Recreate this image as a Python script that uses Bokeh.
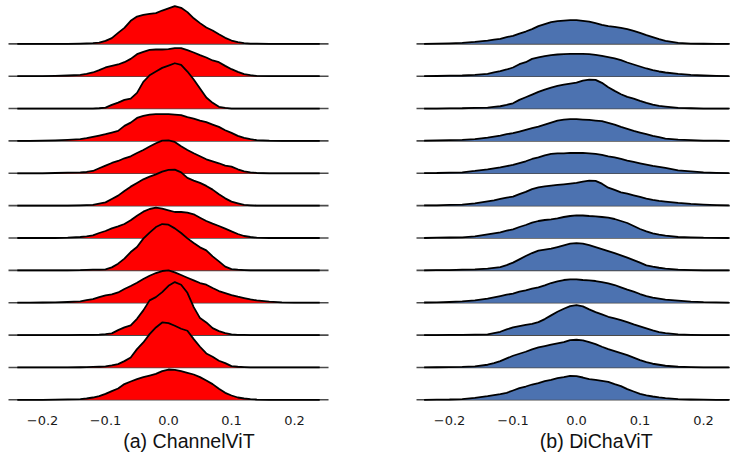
from bokeh.plotting import figure
from bokeh.layouts import row
from bokeh.models import Range1d, FixedTicker, CustomJSTickFormatter, Title
from bokeh.embed import file_html
from bokeh.resources import INLINE

# x positions where the densities were read (weight value)
X_GRID = [-0.24, -0.22, -0.20, -0.18, -0.16,
          -0.14, -0.13, -0.12, -0.11, -0.10, -0.09, -0.08, -0.07, -0.06, -0.05, -0.04, -0.03, -0.02, -0.01,
          0.0, 0.01, 0.02, 0.03, 0.04, 0.05, 0.06, 0.07, 0.08, 0.09, 0.10, 0.11, 0.12, 0.13, 0.14,
          0.16, 0.18, 0.20, 0.22, 0.24]
TICKS = [-0.2, -0.1, 0.0, 0.1, 0.2]
PANEL_TITLES = ["(a) ChannelViT", "(b) DiChaViT"]

# ridge heights (top row first), in density units where 32.36 = one row step
CHANNELVIT = [
    [0, 0, 0, 0, 0,
     0.2, 0.4, 0.7, 1.3, 3, 5.7, 11, 16, 23, 27.3, 29, 30, 30.7, 33.3, 35.5, 37.7, 36, 31.7, 25.5, 20.7, 16.3, 13.3, 9.5, 6, 3.3, 1.7, 0.7, 0.3, 0.2,
     0, 0, 0, 0, 0],
    [0, 0, 0, 0.3, 0.7,
     1.3, 2.3, 3.7, 6, 8.7, 10.3, 11.7, 14, 17.3, 22, 24.3, 26.3, 26.7, 26.7, 27, 28, 28, 26, 23.7, 21, 18.7, 15.7, 14, 10.3, 7, 4.3, 2, 1, 0.3,
     0, 0, 0, 0, 0],
    [0, 0, 0, 0, 0,
     0, 0, 0, 0.3, 1, 3.7, 6, 8.7, 10, 15.7, 26.7, 33.3, 37, 40.7, 43, 45.3, 43.7, 37, 29, 20, 11, 5.7, 1.7, 0.7, 0, 0, 0, 0, 0,
     0, 0, 0, 0, 0],
    [0, 0, 0.2, 0.5, 1,
     1.7, 2.7, 4, 5.3, 6.7, 8.3, 10, 15, 18.3, 23, 25, 26.3, 26.7, 26.7, 26.7, 26.3, 25.7, 23.7, 22.3, 20.3, 18.7, 16.3, 14, 10.7, 8, 5, 3, 1.7, 0.7,
     0.2, 0, 0, 0, 0],
    [0, 0, 0, 0.3, 0.7,
     1, 1.3, 2.3, 5, 7.7, 10.3, 12.3, 15, 17, 20.3, 23.3, 26.7, 30, 32.7, 33, 31.3, 27, 23.3, 20, 17, 14, 12, 10, 7.7, 6.7, 4, 2, 1, 0.3,
     0, 0, 0, 0, 0],
    [0, 0, 0, 0, 0,
     0.3, 0.5, 0.7, 2, 3.3, 6.7, 10, 14.7, 19, 22.7, 26.3, 29, 31.3, 34, 35.7, 36, 33.3, 27.7, 25, 22.7, 19.7, 16, 11.3, 7.3, 4, 2.3, 0.7, 0.3, 0,
     0, 0, 0, 0, 0],
    [0, 0, 0, 0, 0.3,
     1, 1.7, 2.7, 5, 7, 9.7, 11.7, 14, 17.7, 22.3, 26.3, 29, 30.3, 29.3, 27.7, 26, 26, 25.3, 23.7, 20.3, 17, 14.3, 12, 9.3, 6.7, 4, 2, 1, 0.3,
     0, 0, 0, 0, 0],
    [0, 0, 0, 0, 0,
     0.2, 0.5, 0.7, 0.7, 1, 3, 6.7, 11.7, 18.3, 23.3, 31.7, 37.7, 43.3, 46.3, 45.7, 42, 37.3, 32, 27.3, 23, 20, 14, 9, 3.7, 1.3, 0.7, 0.3, 0, 0,
     0, 0, 0, 0, 0],
    [0, 0, 0.2, 0.3, 0.7,
     1.3, 2.5, 3.7, 5.7, 7.3, 8.3, 10.3, 13.7, 16.7, 20, 23.7, 27, 29.7, 31.7, 32.3, 30.3, 27.7, 25, 22.3, 19.7, 18, 14.7, 11.7, 9.7, 7.7, 6, 4.7, 3.3, 2.3,
     1, 0.3, 0, 0, 0],
    [0, 0, 0, 0, 0,
     0.2, 0.2, 0.3, 0.5, 1, 1.7, 5, 7.7, 9.7, 16.3, 24.7, 34.7, 38, 43, 49.3, 53, 50.3, 42.3, 28, 17, 12.7, 7, 4, 2, 0.7, 0.3, 0.2, 0, 0,
     0, 0, 0, 0, 0],
    [0, 0, 0, 0, 0,
     0.2, 0.3, 0.5, 0.7, 1, 2, 3.3, 6.3, 10, 18.3, 25, 33.3, 40, 45, 44.3, 41.7, 38.7, 36.7, 28.3, 20.7, 14, 10.7, 6.7, 4.3, 1.3, 0.7, 0.3, 0, 0,
     0, 0, 0, 0, 0],
    [0, 0, 0, 0.2, 0.5,
     0.7, 1.3, 2.3, 3.7, 6, 8.7, 11.3, 15.7, 18.3, 20.7, 22.7, 24.3, 26, 28.7, 30.3, 30, 28.7, 27, 25.3, 22.7, 19.3, 15.7, 11, 7, 4.3, 2.3, 1.3, 0.7, 0.3,
     0, 0, 0, 0, 0],
]
DICHAVIT = [
    [0, 0.2, 0.5, 1, 2,
     3.3, 4.2, 5, 6.7, 8, 10.3, 12.3, 14.7, 17.7, 19.7, 21.7, 22.7, 23.3, 23.7, 23.7, 23, 22.3, 20.7, 19, 17.7, 17, 16, 14.7, 13, 11, 8.7, 6.7, 4.7, 3,
     1, 0.3, 0.1, 0, 0],
    [0, 0.2, 0.5, 0.7, 1.3,
     2.3, 3.7, 5, 6.7, 8.7, 12, 14, 17.3, 18.7, 20, 21, 21.7, 22, 22.3, 22.3, 22.3, 22, 21.3, 20.3, 19, 17.7, 16, 13.7, 11.7, 9.7, 7.7, 6, 4.7, 3.7,
     2.3, 1.3, 0.7, 0.3, 0],
    [0, 0, 0.2, 0.3, 0.7,
     1, 1.7, 2.3, 3.7, 5.3, 8.7, 11.3, 14, 16.7, 19, 21, 22.7, 24, 25, 26, 28, 29, 28.7, 25.7, 21.3, 17.7, 14.3, 11.7, 10, 7.7, 5.7, 4, 2.7, 2,
     0.7, 0.3, 0, 0, 0],
    [0.3, 0.5, 0.7, 1, 1.7,
     3.3, 4.3, 5.3, 6.7, 7.7, 9.3, 11, 12.7, 14.3, 16.3, 18.3, 20.3, 21.3, 21.7, 21.7, 21.3, 21, 20.3, 19.7, 18, 16.3, 14, 12, 10, 8.3, 6.7, 5, 3.7, 2.3,
     1.3, 0.7, 0.3, 0.2, 0],
    [0.2, 0.3, 0.7, 1, 2.3,
     4, 5, 6, 7.2, 8.3, 10.2, 12, 14.3, 16, 18, 19.3, 20, 20, 20.3, 20.3, 20.3, 20, 19.3, 18.3, 17, 16, 14.3, 12.7, 11.3, 10, 8.7, 7.3, 6.3, 5.3,
     3, 2, 1, 0.5, 0.2],
    [0.2, 0.3, 0.7, 1, 2.3,
     4.3, 5.3, 6.7, 8, 9, 11.5, 13.7, 16.5, 18.3, 19.3, 20, 20.7, 21.3, 22, 22.7, 24, 25, 24.7, 22, 18, 15.7, 13.3, 12, 10.3, 8.7, 7, 5.7, 4.7, 4,
     2.7, 1.7, 1, 0.5, 0.2],
    [0, 0.3, 0.5, 0.7, 1.7,
     3.7, 4.7, 5.7, 7.3, 8.7, 11, 13, 15.3, 17, 18, 18.7, 19.7, 21, 22, 22.7, 22.5, 22, 21.7, 21, 20.3, 19, 17, 15, 12, 9, 6.7, 4.7, 3.3, 2.3,
     1, 0.7, 0.3, 0.2, 0],
    [0, 0.2, 0.3, 0.7, 1,
     1.7, 2.5, 3.3, 5.3, 7.7, 11, 14.3, 17.3, 19.7, 20.7, 21.7, 23.3, 25, 26.7, 27.3, 26.7, 25.3, 23.3, 21.3, 19.3, 17.3, 15, 12.7, 10.2, 7.7, 5, 3.7, 2.6, 1.7,
     0.7, 0.3, 0, 0, 0],
    [0.2, 0.3, 0.7, 1.3, 2.3,
     4, 5.3, 6.7, 8, 9, 11, 12.3, 14, 15.3, 17.3, 19.7, 21.3, 22.7, 23.3, 23.3, 22.7, 22.3, 21.7, 20.7, 19.3, 17.7, 15.3, 13, 11, 8.7, 6.7, 5, 4, 3,
     2, 1, 0.5, 0.3, 0.1],
    [0, 0, 0.2, 0.3, 0.5,
     0.7, 2, 3.3, 5.7, 7.7, 9, 10.3, 11.3, 13, 16, 19.7, 23.3, 26.3, 29, 30, 28.7, 25.7, 23, 20.7, 18.3, 16.7, 15, 13, 10.7, 8.7, 6.7, 4.7, 3, 2,
     0.7, 0.3, 0, 0, 0],
    [0, 0.2, 0.3, 0.5, 1,
     2.7, 4.3, 6.3, 9, 11.7, 13.7, 15.7, 18, 20, 21.3, 22.7, 24, 25.3, 27.3, 27.7, 27, 25.3, 23.3, 20.7, 18.3, 16.3, 14.3, 12.3, 9.8, 7.3, 5.3, 3.7, 2.7, 1.7,
     0.7, 0.3, 0.1, 0, 0],
    [0, 0.2, 0.3, 0.7, 2,
     3.7, 4.7, 5.7, 7, 9.3, 11.7, 13.3, 15.3, 16.7, 18.7, 20, 21.7, 22.7, 24, 23.7, 22.3, 20.7, 20, 19, 18, 15.7, 13.7, 10.7, 8.3, 6, 4.5, 3.3, 2.4, 1.7,
     0.7, 0.3, 0.1, 0, 0],
]

ROW_STEP = 32.36
FIG_H = 455


def make_panel(dens, fill, width, x_range, xlim, title, title_offset):
    n = len(dens)
    p = figure(width=width, height=FIG_H, x_range=Range1d(*x_range),
               y_range=Range1d(-0.176, 12.339), output_backend="svg",
               toolbar_location=None, y_axis_location=None,
               min_border_left=0, min_border_right=0, min_border_top=0,
               min_border_bottom=50)
    p.outline_line_color = None
    p.grid.visible = False
    p.background_fill_color = "white"
    p.border_fill_color = "white"
    for i, h in enumerate(dens):
        base = n - 1 - i
        y = [base + v / ROW_STEP for v in h]
        p.line([xlim[0], xlim[1]], [base, base], line_color="#4a4a4a", line_width=1.6)
        p.varea(x=X_GRID, y1=[base] * len(h), y2=y, fill_color=fill)
        p.line(X_GRID, y, line_color="black", line_width=1.8, line_join="round")
    ax = p.xaxis[0]
    ax.ticker = FixedTicker(ticks=TICKS)
    ax.formatter = CustomJSTickFormatter(code="return tick.toFixed(1).replace('-', '\\u2212');")
    ax.axis_line_color = None
    ax.major_tick_line_color = None
    ax.minor_tick_line_color = None
    ax.major_tick_in = 0
    ax.major_tick_out = 0
    ax.major_label_text_font = "DejaVu Sans"
    ax.major_label_text_font_size = "13px"
    ax.major_label_text_color = "#1a1a1a"
    ax.major_label_standoff = 10
    t = Title(text=title, align="left", offset=title_offset, text_font="Liberation Sans",
              text_font_size="19.6px", text_font_style="normal", text_color="#111111", standoff=0)
    p.add_layout(t, "below")
    return p


p1 = make_panel(CHANNELVIT, "#ff0000", 372, (-0.2667, 0.3238), (-0.254, 0.254), PANEL_TITLES[0], 122.7)
p2 = make_panel(DICHAVIT, "#4c72b0", 358, (-0.3213, 0.2425), (-0.252, 0.2425), PANEL_TITLES[1], 167.3)

layout = row(p1, p2)
open("out.html", "w").write(file_html(layout, INLINE))
